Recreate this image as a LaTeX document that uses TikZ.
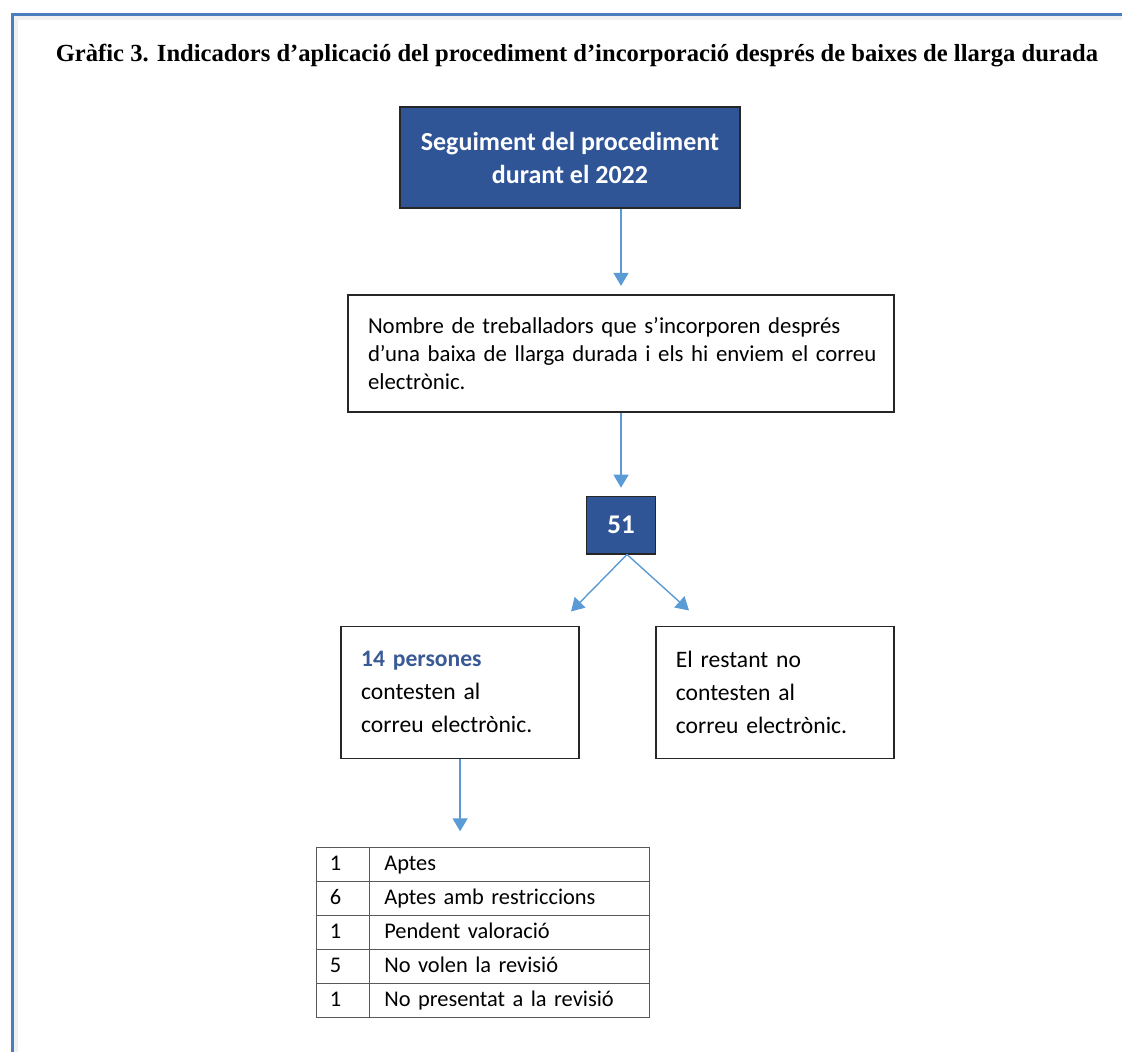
\documentclass[tikz,border=0pt]{standalone}
\usepackage{fontspec}
\setmainfont{Carlito}
\newfontfamily\titlefont{Liberation Serif}
\usetikzlibrary{positioning, arrows.meta, matrix, calc}
\definecolor{frameBlue}{HTML}{4A7EBF}
\definecolor{boxBlue}{HTML}{2F5597}
\definecolor{arrowBlue}{HTML}{5B9BD5}
\definecolor{nameBlue}{HTML}{3A5A95}
\colorlet{drawColor}{black!85}
\colorlet{tabColor}{black!65}
\tikzstyle{fHead}=[rectangle, align=center, draw=drawColor, fill=boxBlue,
  text=white, line width=0.9pt]
\tikzstyle{fText}=[rectangle, align=left, draw=drawColor, fill=white,
  line width=0.9pt, inner xsep=10pt]
\tikzstyle{arrow}=[-{Triangle[length=6.5pt, width=7.5pt]}, draw=arrowBlue,
  fill=arrowBlue, line width=0.7pt]

\begin{document}
\begin{tikzpicture}[x=0.5pt, y=-0.5pt, node distance=5mm,
    font=\fontsize{11.4}{14}\selectfont]
  \useasboundingbox (0,0) rectangle (1122,1052);
  % frame
  \draw [line width=2pt, black!6] (15.5,1052) -- (15.5,18.5) -- (1122,18.5);
  \draw [line width=1.5pt, frameBlue] (12,1052) -- (12,15) -- (1122,15);
  \node(title) at (577,56) [font=\titlefont\bfseries\fontsize{12.3}{14}\selectfont]
    {Gràfic 3. Indicadors d’aplicació del procediment d’incorporació després de baixes de llarga durada};
  \node(seg) at (570,157.5) [fHead, minimum width=170pt, minimum height=50.5pt,
    font=\bfseries\fontsize{13}{16.5}\selectfont] {Seguiment del procediment\\durant el 2022};
  \node(num) [fText, below=42.5pt of seg, xshift=25.5pt, text width=253pt,
    minimum height=58.5pt] {\mbox{Nombre de treballadors que s’incorporen després}\\
    \mbox{d’una baixa de llarga durada i els hi enviem el correu}\\ electrònic.};
  \draw [arrow, shorten >=4pt] (seg.south -| num) -- (num);
  \node(n51) [fHead, below=41.5pt of num, minimum width=34.5pt, minimum height=28.5pt,
    font=\bfseries\fontsize{13.5}{16}\selectfont] {51};
  \draw [arrow, shorten >=4pt] (num) -- (n51);
  \node(resp) [fText, below left=35.5pt and 20.5pt of n51.south, text width=99pt,
    minimum height=66pt, font=\fontsize{11.8}{16.5}\selectfont]
    {\textcolor{nameBlue}{\textbf{14 persones}}\\ contesten al\\ correu electrònic.};
  \node(noresp) [fText, below right=35.5pt and 17pt of n51.south, text width=99pt,
    minimum height=66pt, font=\fontsize{11.8}{16.5}\selectfont]
    {El restant no\\ contesten al\\ correu electrònic.};
  \coordinate(split) at ($(n51.south)+(6,0)$);
  \coordinate(tipL) at ($(split)+(-56,57)$);
  \coordinate(tipR) at ($(split)+(62,56)$);
  \draw [arrow] (split) -- (tipL);
  \draw [arrow] (split) -- (tipR);
  \matrix(tab) [matrix of nodes, inner sep=0pt, below=43.5pt of resp.south west,
    anchor=north west, xshift=-12.5pt, column sep=-0.7pt, row sep=-0.7pt,
    nodes={draw=tabColor, line width=0.7pt, minimum height=17pt, align=left,
      anchor=center, text height=8.5pt, text depth=2.5pt,
      font=\fontsize{11.2}{13}\selectfont},
    column 1/.style={nodes={text width=13pt, inner xsep=6.75pt}},
    column 2/.style={nodes={text width=125pt, inner xsep=7.5pt}}] {
    1 & Aptes \\
    6 & Aptes amb restriccions \\
    1 & Pendent valoració \\
    5 & No volen la revisió \\
    1 & No presentat a la revisió \\
  };
  \draw [arrow, shorten >=7.5pt] (resp.south) -- (resp.south |- tab.north);
\end{tikzpicture}
\end{document}
